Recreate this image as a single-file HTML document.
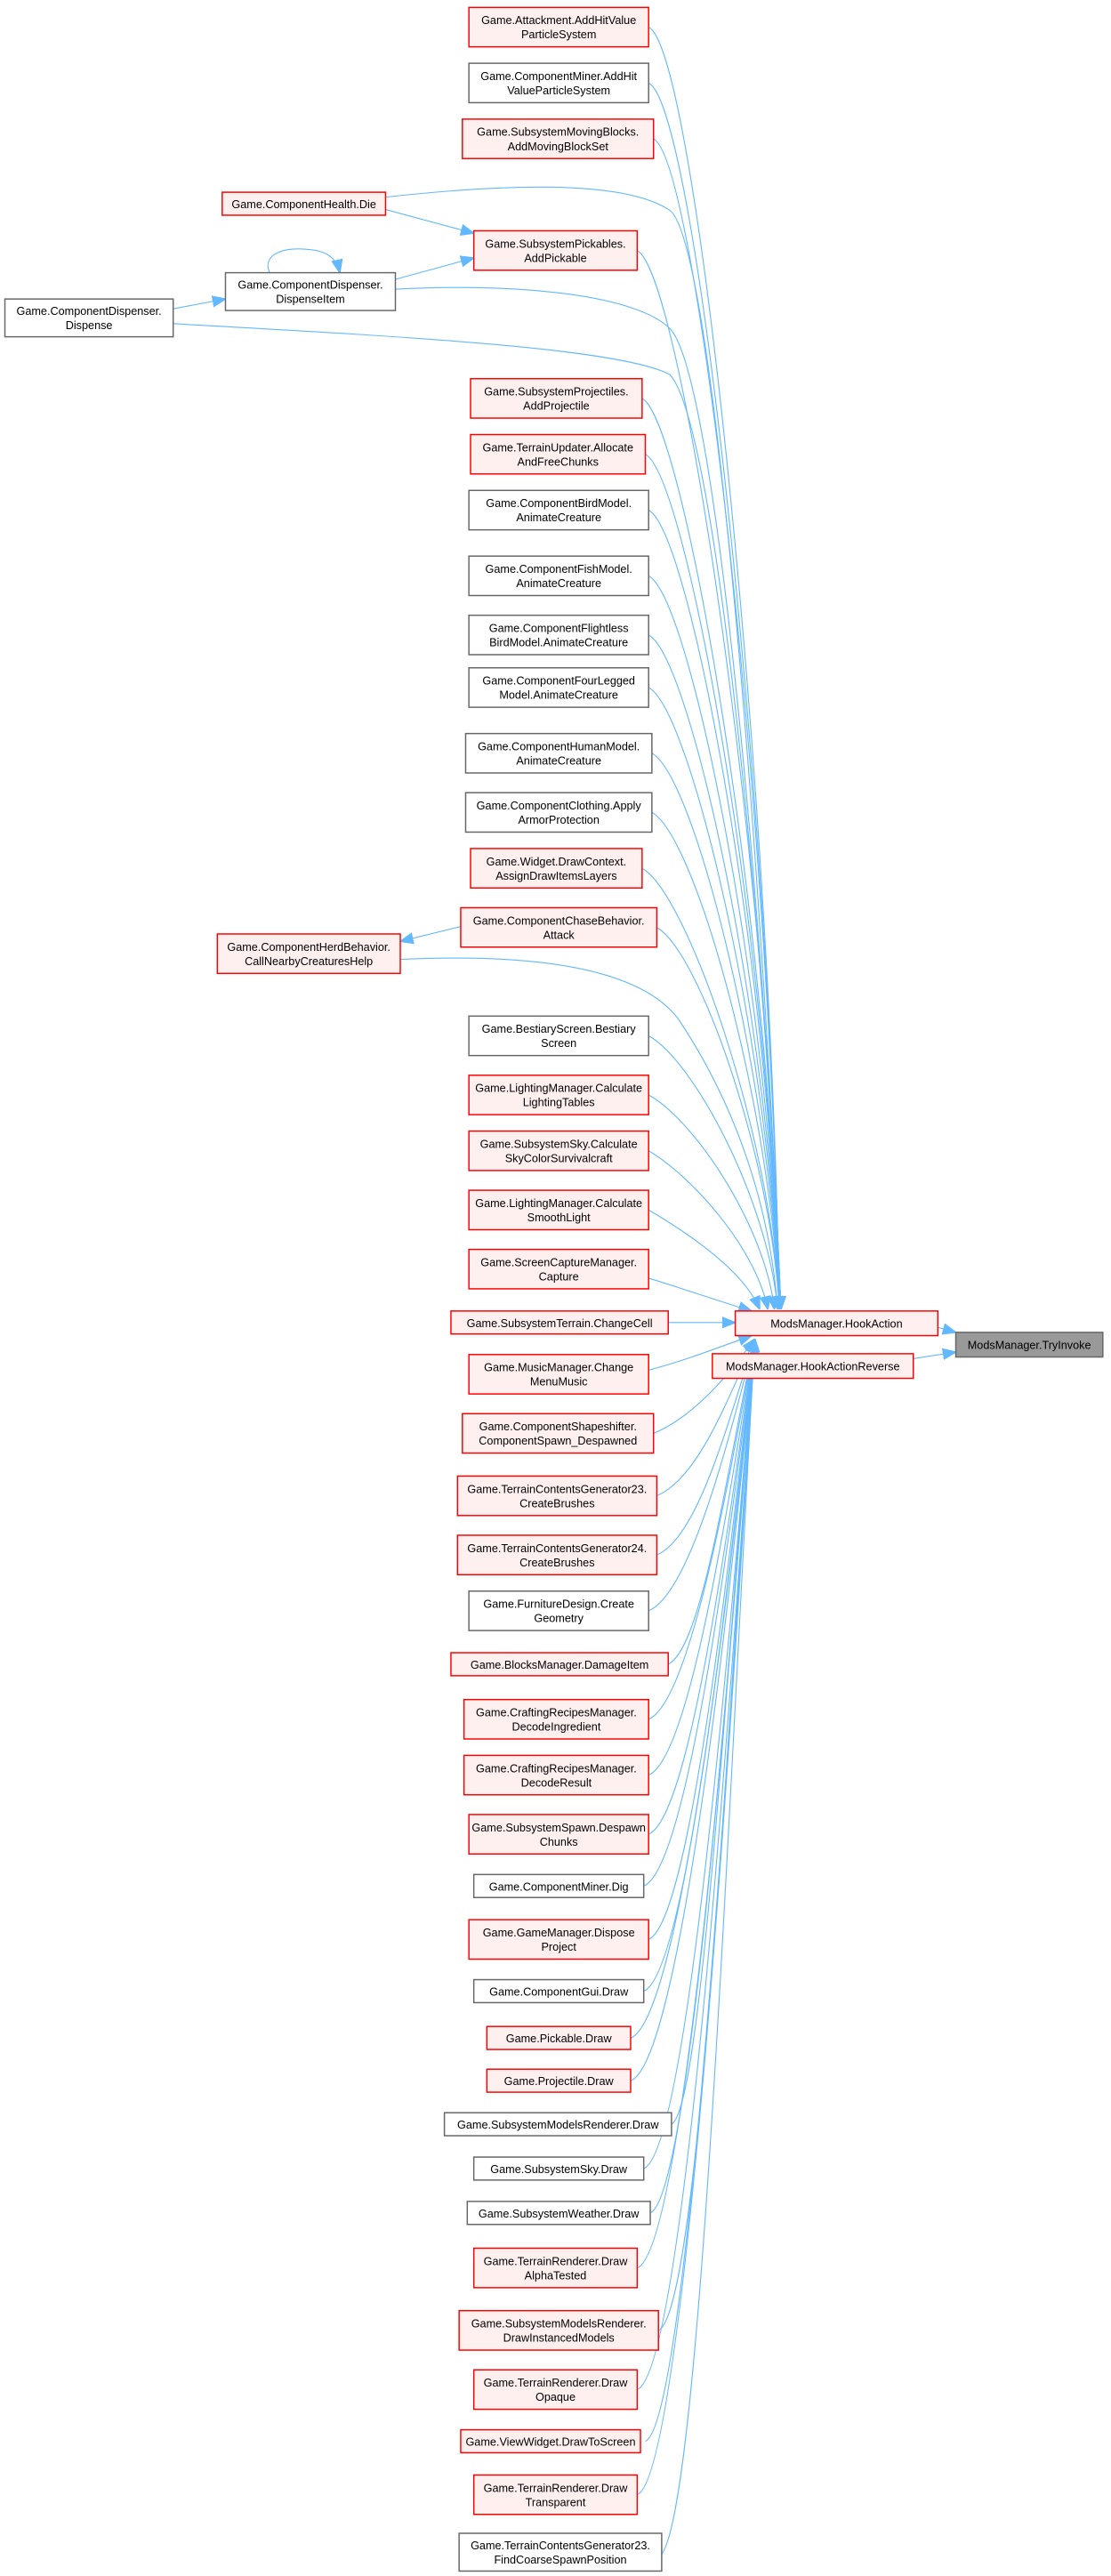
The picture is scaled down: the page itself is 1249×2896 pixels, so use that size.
<!DOCTYPE html>
<html><head><meta charset="utf-8">
<style>
html,body{margin:0;padding:0;background:#fff;}
svg{display:block;}
text{font-family:"Liberation Sans",Arial,sans-serif;font-size:6.9px;fill:#000;text-anchor:middle;}
.r{fill:#fff0f0;stroke:#ff0000;stroke-width:0.8;}
.g{fill:#fff;stroke:#666;stroke-width:0.8;}
.t{fill:#999;stroke:#666;stroke-width:0.8;}
.e{fill:none;stroke:#63b8ff;stroke-width:0.6;}
</style></head><body>
<svg width="1249" height="2896" viewBox="0 0 680 1568" preserveAspectRatio="none" xmlns="http://www.w3.org/2000/svg">
<defs>
<marker id="a" markerUnits="userSpaceOnUse" markerWidth="8" markerHeight="8" viewBox="0 0 10 10" refX="10" refY="5" orient="auto">
<path d="M0,1 L10,5 L0,9 z" fill="#63b8ff" stroke="#63b8ff"/>
</marker>
</defs>

<g class="e" marker-end="url(#a)">
<path class="e" d="M397,16.5 C427,31 472,485 477,797" marker-end="url(#a)"/>
<path class="e" d="M397,50.5 C427,65 472,498 477,797" marker-end="url(#a)"/>
<path class="e" d="M400,84.5 C428,99 472,512 477,797" marker-end="url(#a)"/>
<path class="e" d="M390,152.5 C418,167 472,539 477,797" marker-end="url(#a)"/>
<path class="e" d="M393,242.5 C420,257 472,575 477,797" marker-end="url(#a)"/>
<path class="e" d="M395,276.5 C422,291 472,589 477,797" marker-end="url(#a)"/>
<path class="e" d="M397,310.5 C424,325 472,602 477,797" marker-end="url(#a)"/>
<path class="e" d="M397,350.5 C424,365 472,618 477,797" marker-end="url(#a)"/>
<path class="e" d="M397,386.5 C424,401 472,633 477,797" marker-end="url(#a)"/>
<path class="e" d="M397,418.5 C424,433 472,646 477,797" marker-end="url(#a)"/>
<path class="e" d="M399,458.5 C426,473 472,662 477,797" marker-end="url(#a)"/>
<path class="e" d="M399,494.5 C426,509 472,676 477,797" marker-end="url(#a)"/>
<path class="e" d="M393,528.5 C420,543 472,690 477,797" marker-end="url(#a)"/>
<path class="e" d="M402,564.5 C428,579 472,704 477,797" marker-end="url(#a)"/>
<path class="e" d="M397,630.5 C424,645 470,730 476,797" marker-end="url(#a)"/>
<path class="e" d="M397,666.5 C424,681 468,745 474,797" marker-end="url(#a)"/>
<path class="e" d="M397,700.5 C422,715 462,758 470,797" marker-end="url(#a)"/>
<path class="e" d="M397,736.5 C420,750 455,773 465,797" marker-end="url(#a)"/>
<path class="e" d="M397,778 C420,785 440,792 460,798" marker-end="url(#a)"/>
<path class="e" d="M409,805 L450,805" marker-end="url(#a)"/>
<path class="e" d="M236,120 C300,113 380,108 410,128 C440,150 470,600 478,797" marker-end="url(#a)"/>
<path class="e" d="M242,176 C320,172 390,180 410,200 C440,230 470,600 478,797" marker-end="url(#a)"/>
<path class="e" d="M106,197 C250,205 380,212 410,228 C440,260 470,600 478,797" marker-end="url(#a)"/>
<path class="e" d="M245,584 C330,580 392,590 415,620 C442,660 470,720 476,797" marker-end="url(#a)"/>
</g>
<path class="e" d="M397,834 C420,828 440,820 460,813" marker-end="url(#a)"/>
<path class="e" d="M400,872.5 C425,862 445,838 462,815" marker-end="url(#a)"/>
<path class="e" d="M402,910.5 C427,900 445,853 462,815" marker-end="url(#a)"/>
<path class="e" d="M402,946.5 C427,936 445,868 462,815" marker-end="url(#a)"/>
<path class="e" d="M397,980.5 C422,970 445,881 462,815" marker-end="url(#a)"/>
<path class="e" d="M409,1013 C430,1003 445,894 462,815" marker-end="url(#a)"/>
<path class="e" d="M397,1046.5 C422,1036 445,908 462,815" marker-end="url(#a)"/>
<path class="e" d="M397,1080.5 C422,1070 445,921 462,815" marker-end="url(#a)"/>
<path class="e" d="M397,1116.5 C422,1106 445,936 462,815" marker-end="url(#a)"/>
<path class="e" d="M394,1148 C420,1138 445,948 462,815" marker-end="url(#a)"/>
<path class="e" d="M397,1180.5 C422,1170 445,961 462,815" marker-end="url(#a)"/>
<path class="e" d="M394,1212 C420,1202 445,974 462,815" marker-end="url(#a)"/>
<path class="e" d="M386,1240.5 C415,1230 445,985 462,815" marker-end="url(#a)"/>
<path class="e" d="M386,1266.5 C415,1256 445,996 462,815" marker-end="url(#a)"/>
<path class="e" d="M411,1293 C430,1283 445,1006 462,815" marker-end="url(#a)"/>
<path class="e" d="M394,1320 C420,1310 445,1017 462,815" marker-end="url(#a)"/>
<path class="e" d="M398,1347 C422,1337 445,1028 462,815" marker-end="url(#a)"/>
<path class="e" d="M390,1380.5 C418,1370 445,1041 462,815" marker-end="url(#a)"/>
<path class="e" d="M403,1418.5 C428,1408 445,1056 462,815" marker-end="url(#a)"/>
<path class="e" d="M390,1454.5 C418,1444 445,1071 462,815" marker-end="url(#a)"/>
<path class="e" d="M395,1486 C420,1476 445,1083 462,815" marker-end="url(#a)"/>
<path class="e" d="M390,1518.5 C418,1508 445,1096 462,815" marker-end="url(#a)"/>
<path class="e" d="M403,1556.5 C428,1546 445,1112 462,815" marker-end="url(#a)"/>
<path class="e" d="M234,127 L290,142" marker-end="url(#a)"/>
<path class="e" d="M242,170 L290,157" marker-end="url(#a)"/>
<path class="e" d="M106,188 L138,182" marker-end="url(#a)"/>
<path class="e" d="M165,166 C160,154 175,150 190,152 C200,153 206,157 208,166" marker-end="url(#a)"/>
<path class="e" d="M282,564 L245,573" marker-end="url(#a)"/>
<path class="e" d="M574,808 L585,811" marker-end="url(#a)"/>
<path class="e" d="M559,827 L585,823" marker-end="url(#a)"/>

<rect class="r" x="287" y="4.5" width="110" height="24"/><text x="342" y="14.7">Game.Attackment.AddHitValue</text><text x="342" y="23.4">ParticleSystem</text>
<rect class="g" x="287" y="38.5" width="110" height="24"/><text x="342" y="48.7">Game.ComponentMiner.AddHit</text><text x="342" y="57.4">ValueParticleSystem</text>
<rect class="r" x="283" y="72.5" width="117" height="24"/><text x="341.5" y="82.7">Game.SubsystemMovingBlocks.</text><text x="341.5" y="91.4">AddMovingBlockSet</text>
<rect class="r" x="136" y="117" width="100" height="14"/><text x="186" y="126.7">Game.ComponentHealth.Die</text>
<rect class="r" x="290" y="140.5" width="100" height="24"/><text x="340" y="150.7">Game.SubsystemPickables.</text><text x="340" y="159.4">AddPickable</text>
<rect class="g" x="138" y="166" width="104" height="23"/><text x="190" y="175.7">Game.ComponentDispenser.</text><text x="190" y="184.4">DispenseItem</text>
<rect class="g" x="3" y="182" width="103" height="23"/><text x="54.5" y="191.7">Game.ComponentDispenser.</text><text x="54.5" y="200.4">Dispense</text>
<rect class="r" x="288" y="230.5" width="105" height="24"/><text x="340.5" y="240.7">Game.SubsystemProjectiles.</text><text x="340.5" y="249.4">AddProjectile</text>
<rect class="r" x="288" y="264.5" width="107" height="24"/><text x="341.5" y="274.7">Game.TerrainUpdater.Allocate</text><text x="341.5" y="283.4">AndFreeChunks</text>
<rect class="g" x="287" y="298.5" width="110" height="24"/><text x="342" y="308.7">Game.ComponentBirdModel.</text><text x="342" y="317.4">AnimateCreature</text>
<rect class="g" x="287" y="338.5" width="110" height="24"/><text x="342" y="348.7">Game.ComponentFishModel.</text><text x="342" y="357.4">AnimateCreature</text>
<rect class="g" x="287" y="374.5" width="110" height="24"/><text x="342" y="384.7">Game.ComponentFlightless</text><text x="342" y="393.4">BirdModel.AnimateCreature</text>
<rect class="g" x="287" y="406.5" width="110" height="24"/><text x="342" y="416.7">Game.ComponentFourLegged</text><text x="342" y="425.4">Model.AnimateCreature</text>
<rect class="g" x="285" y="446.5" width="114" height="24"/><text x="342" y="456.7">Game.ComponentHumanModel.</text><text x="342" y="465.4">AnimateCreature</text>
<rect class="g" x="285" y="482.5" width="114" height="24"/><text x="342" y="492.7">Game.ComponentClothing.Apply</text><text x="342" y="501.4">ArmorProtection</text>
<rect class="r" x="288" y="516.5" width="105" height="24"/><text x="340.5" y="526.7">Game.Widget.DrawContext.</text><text x="340.5" y="535.4">AssignDrawItemsLayers</text>
<rect class="r" x="282" y="552.5" width="120" height="24"/><text x="342" y="562.7">Game.ComponentChaseBehavior.</text><text x="342" y="571.4">Attack</text>
<rect class="r" x="133" y="568.5" width="112" height="24"/><text x="189" y="578.7">Game.ComponentHerdBehavior.</text><text x="189" y="587.4">CallNearbyCreaturesHelp</text>
<rect class="g" x="287" y="618.5" width="110" height="24"/><text x="342" y="628.7">Game.BestiaryScreen.Bestiary</text><text x="342" y="637.4">Screen</text>
<rect class="r" x="287" y="654.5" width="110" height="24"/><text x="342" y="664.7">Game.LightingManager.Calculate</text><text x="342" y="673.4">LightingTables</text>
<rect class="r" x="287" y="688.5" width="110" height="24"/><text x="342" y="698.7">Game.SubsystemSky.Calculate</text><text x="342" y="707.4">SkyColorSurvivalcraft</text>
<rect class="r" x="287" y="724.5" width="110" height="24"/><text x="342" y="734.7">Game.LightingManager.Calculate</text><text x="342" y="743.4">SmoothLight</text>
<rect class="r" x="287" y="760.5" width="110" height="24"/><text x="342" y="770.7">Game.ScreenCaptureManager.</text><text x="342" y="779.4">Capture</text>
<rect class="r" x="276" y="798" width="133" height="14"/><text x="342.5" y="807.7">Game.SubsystemTerrain.ChangeCell</text>
<rect class="r" x="287" y="824.5" width="110" height="24"/><text x="342" y="834.7">Game.MusicManager.Change</text><text x="342" y="843.4">MenuMusic</text>
<rect class="r" x="283" y="860.5" width="117" height="24"/><text x="341.5" y="870.7">Game.ComponentShapeshifter.</text><text x="341.5" y="879.4">ComponentSpawn_Despawned</text>
<rect class="r" x="280" y="898.5" width="122" height="24"/><text x="341" y="908.7">Game.TerrainContentsGenerator23.</text><text x="341" y="917.4">CreateBrushes</text>
<rect class="r" x="280" y="934.5" width="122" height="24"/><text x="341" y="944.7">Game.TerrainContentsGenerator24.</text><text x="341" y="953.4">CreateBrushes</text>
<rect class="g" x="287" y="968.5" width="110" height="24"/><text x="342" y="978.7">Game.FurnitureDesign.Create</text><text x="342" y="987.4">Geometry</text>
<rect class="r" x="276" y="1006" width="133" height="14"/><text x="342.5" y="1015.7">Game.BlocksManager.DamageItem</text>
<rect class="r" x="284" y="1034.5" width="113" height="24"/><text x="340.5" y="1044.7">Game.CraftingRecipesManager.</text><text x="340.5" y="1053.4">DecodeIngredient</text>
<rect class="r" x="284" y="1068.5" width="113" height="24"/><text x="340.5" y="1078.7">Game.CraftingRecipesManager.</text><text x="340.5" y="1087.4">DecodeResult</text>
<rect class="r" x="287" y="1104.5" width="110" height="24"/><text x="342" y="1114.7">Game.SubsystemSpawn.Despawn</text><text x="342" y="1123.4">Chunks</text>
<rect class="g" x="290" y="1141" width="104" height="14"/><text x="342" y="1150.7">Game.ComponentMiner.Dig</text>
<rect class="r" x="287" y="1168.5" width="110" height="24"/><text x="342" y="1178.7">Game.GameManager.Dispose</text><text x="342" y="1187.4">Project</text>
<rect class="g" x="290" y="1205" width="104" height="14"/><text x="342" y="1214.7">Game.ComponentGui.Draw</text>
<rect class="r" x="298" y="1233.5" width="88" height="14"/><text x="342" y="1243.2">Game.Pickable.Draw</text>
<rect class="r" x="298" y="1259.5" width="88" height="14"/><text x="342" y="1269.2">Game.Projectile.Draw</text>
<rect class="g" x="272" y="1286" width="139" height="14"/><text x="341.5" y="1295.7">Game.SubsystemModelsRenderer.Draw</text>
<rect class="g" x="290" y="1313" width="104" height="14"/><text x="342" y="1322.7">Game.SubsystemSky.Draw</text>
<rect class="g" x="286" y="1340" width="112" height="14"/><text x="342" y="1349.7">Game.SubsystemWeather.Draw</text>
<rect class="r" x="290" y="1368.5" width="100" height="24"/><text x="340" y="1378.7">Game.TerrainRenderer.Draw</text><text x="340" y="1387.4">AlphaTested</text>
<rect class="r" x="281" y="1406.5" width="122" height="24"/><text x="342" y="1416.7">Game.SubsystemModelsRenderer.</text><text x="342" y="1425.4">DrawInstancedModels</text>
<rect class="r" x="290" y="1442.5" width="100" height="24"/><text x="340" y="1452.7">Game.TerrainRenderer.Draw</text><text x="340" y="1461.4">Opaque</text>
<rect class="r" x="282" y="1479" width="110" height="14"/><text x="337" y="1488.7">Game.ViewWidget.DrawToScreen</text>
<rect class="r" x="290" y="1506.5" width="100" height="24"/><text x="340" y="1516.7">Game.TerrainRenderer.Draw</text><text x="340" y="1525.4">Transparent</text>
<rect class="g" x="281" y="1542" width="124" height="23"/><text x="343" y="1551.7">Game.TerrainContentsGenerator23.</text><text x="343" y="1560.4">FindCoarseSpawnPosition</text>

<rect class="r" x="450" y="798" width="124" height="15"/><text x="512" y="808.2">ModsManager.HookAction</text>
<rect class="r" x="436" y="824" width="123" height="15"/><text x="497.5" y="834.2">ModsManager.HookActionReverse</text>
<rect class="t" x="585" y="811" width="90" height="15"/><text x="630" y="821.2">ModsManager.TryInvoke</text>
</svg>
</body></html>
